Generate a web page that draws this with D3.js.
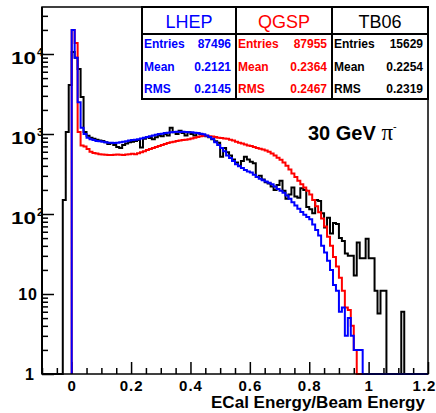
<!DOCTYPE html>
<html>
<head>
<meta charset="utf-8">
<script src="https://cdn.jsdelivr.net/npm/d3@7"></script>
<style>
  body { margin: 0; background: #fff; }
  text { font-family: "Liberation Sans", Arial, Helvetica, sans-serif; }
</style>
</head>
<body>
<svg id="chart" width="436" height="413"></svg>
<script>
// binning and axis labels
const binWidth = 0.01;
const xTicks = [0, 0.2, 0.4, 0.6, 0.8, 1, 1.2];
const xTickLabels = ['0', '0.2', '0.4', '0.6', '0.8', '1', '1.2'];
const yTicks = [1, 10, 100, 1000, 10000];
const yTickLabels = [['1', ''], ['10', ''], ['10', '2'], ['10', '3'], ['10', '4']];

// TB06 data, first bin at -0.03
const tb06Start = -0.03;
const tb06 = [
  150, 1060, 4100, 10600, 9000, 6500, 2900, 1060, 950, 900,
  870, 850, 830, 820, 790, 750, 770, 730, 690, 670,
  730, 760, 790, 800, 820, 840, 680, 870, 910, 890,
  860, 910, 960, 940, 1000, 960, 1200, 1050, 1000, 1100,
  1030, 960, 1050, 1000, 960, 1030, 1000, 960, 940, 910,
  860, 810, 780, 520, 670, 590, 540, 480, 440, 400,
  460, 520, 480, 450, 430, 290, 300, 270, 250, 240,
  220, 200, 230, 260, 195, 155, 175, 215, 165, 160,
  210, 200, 122, 115, 102, 150, 145, 102, 68, 90,
  57, 77, 75, 50, 46, 32, 30, 30, 17, 44,
  28, 28, 49, 28, 28, 11, 5.7, 11, 11, 0,
  0, 0, 0, 0, 6
];

// LHEP simulation, first bin at 0
const lhepStart = 0;
const lhep = [
  20000, 9000, 2500, 1200, 1000, 900, 860, 840, 820, 810,
  800, 790, 780, 775, 770, 780, 790, 800, 810, 830,
  840, 850, 860, 880, 900, 920, 940, 960, 980, 1000,
  1010, 1030, 1040, 1050, 1060, 1070, 1060, 1070, 1060, 1050,
  1050, 1040, 1030, 1010, 990, 960, 920, 870, 790, 730,
  670, 610, 540, 500, 460, 420, 395, 375, 355, 340,
  330, 310, 290, 275, 265, 255, 245, 235, 220, 205,
  195, 185, 170, 155, 140, 128, 116, 106, 98, 92,
  86, 74, 63, 54, 40, 33, 26, 20, 13, 11,
  6, 6.8, 3, 5, 3, 2, 2, 2
];

// QGSP simulation, first bin at 0
const qgspStart = 0;
const qgsp = [
  20000, 13700, 1060, 720, 700, 650, 600, 580, 570, 560,
  555, 550, 545, 545, 550, 555, 550, 548, 555, 560,
  565, 560, 575, 590, 610, 630, 650, 670, 690, 710,
  730, 750, 770, 790, 800, 820, 830, 840, 850, 860,
  880, 900, 920, 940, 950, 950, 940, 930, 920, 900,
  890, 880, 870, 850, 830, 800, 780, 760, 740, 720,
  710, 690, 670, 655, 640, 620, 600, 570, 540, 505,
  475, 440, 400, 360, 320, 290, 260, 235, 215, 195,
  175, 150, 125, 105, 88, 70, 52, 40, 29, 22,
  16, 11, 6.8, 6.3, 4, 2
];

const statNames = ['LHEP', 'QGSP', 'TB06'];
const statColors = ['#0000ff', '#ff0000', '#000000'];
const statEntries = ['87496', '87955', '15629'];
const statMeans = ['0.2121', '0.2364', '0.2254'];
const statRms = ['0.2145', '0.2467', '0.2319'];

const svg = d3.select('#chart');
const mLeft = 42, mRight = 428, mTop = 7, mBottom = 374;

const x = d3.scaleLinear().domain([-0.1, 1.2]).range([mLeft, mRight]);
const y = d3.scaleLog().domain([1, Math.pow(10, 4.5875)]).range([mBottom, mTop]);

// histogram outline as a step path
function steps(start, values, from, to) {
  const pts = [[from, 1]];
  const n = Math.round((to - from) / binWidth);
  for (let i = 0; i < n; i++) {
    const e = from + i * binWidth;
    const k = Math.round((e - start) / binWidth);
    const v = (k >= 0 && k < values.length) ? values[k] : 0;
    pts.push([e, Math.max(v, 1)]);
  }
  pts.push([to, pts[pts.length - 1][1]]);
  pts.push([to, 1]);
  return pts;
}

const line = d3.line()
  .x(d => x(d[0]))
  .y(d => y(d[1]))
  .curve(d3.curveStepAfter);

svg.append('clipPath').attr('id', 'clip')
  .append('rect')
  .attr('x', mLeft).attr('y', mTop)
  .attr('width', mRight - mLeft).attr('height', mBottom - mTop + 2);

// minor ticks
const xMinor = d3.range(-0.1, 1.2001, 0.05).filter(v => Math.abs(v / 0.2 - Math.round(v / 0.2)) > 1e-6);
svg.append('g')
  .attr('transform', `translate(0,${mBottom})`)
  .call(d3.axisBottom(x).tickValues(xMinor).tickSize(-6).tickFormat(''))
  .call(g => g.select('.domain').remove())
  .call(g => g.selectAll('line').attr('stroke-width', 1.5));

const yMinor = [];
for (let p = 0; p < 5; p++) {
  for (let m = 2; m <= 9; m++) {
    const v = m * Math.pow(10, p);
    if (v < y.domain()[1]) yMinor.push(v);
  }
}
svg.append('g')
  .attr('transform', `translate(${mLeft},0)`)
  .call(d3.axisLeft(y).tickValues(yMinor).tickSize(-6).tickFormat(''))
  .call(g => g.select('.domain').remove())
  .call(g => g.selectAll('line').attr('stroke-width', 1.5));

// major ticks and labels
svg.append('g')
  .attr('transform', `translate(0,${mBottom})`)
  .call(d3.axisBottom(x).tickValues(xTicks).tickSize(-12).tickPadding(6)
    .tickFormat((d, i) => xTickLabels[i]))
  .call(g => g.select('.domain').remove())
  .call(g => g.selectAll('line').attr('stroke-width', 1.5))
  .call(g => g.selectAll('text')
    .attr('font-size', 15).attr('font-weight', 'bold').attr('fill', '#000')
    .attr('letter-spacing', 1)
    .attr('x', d => d === 1.2 ? -4 : 0)
    .style('font-family', '"Liberation Sans", Arial, sans-serif'));

const yAxis = svg.append('g')
  .attr('transform', `translate(${mLeft},0)`)
  .call(d3.axisLeft(y).tickValues(yTicks).tickSize(-12).tickFormat(''))
  .call(g => g.select('.domain').remove())
  .call(g => g.selectAll('line').attr('stroke-width', 1.5));

yAxis.selectAll('.tick').each(function (d, i) {
  const lab = yTickLabels[i];
  const g = d3.select(this);
  const font = t => t.attr('fill', '#000')
    .attr('font-weight', 'bold')
    .style('font-family', '"Liberation Sans", Arial, sans-serif');
  if (lab[1]) {
    g.append('text').call(font)
      .attr('text-anchor', 'start')
      .attr('x', -31).attr('y', 9).attr('font-size', 16)
      .attr('textLength', 25).attr('lengthAdjust', 'spacingAndGlyphs')
      .text(lab[0]);
    g.append('text').call(font)
      .attr('text-anchor', 'start')
      .attr('x', -5).attr('y', 1).attr('font-size', 11)
      .text(lab[1]);
  } else {
    g.append('text').call(font)
      .attr('text-anchor', 'end')
      .attr('x', lab[0] === '1' ? -7 : -4).attr('y', 5).attr('font-size', 16)
      .attr('letter-spacing', 1)
      .text(lab[0]);
  }
});

// histograms
const hist = svg.append('g').attr('clip-path', 'url(#clip)');
const series = [
  { start: tb06Start, values: tb06, from: -0.1, color: '#000000' },
  { start: qgspStart, values: qgsp, from: 0, color: '#ff0000' },
  { start: lhepStart, values: lhep, from: 0, color: '#0000ff' }
];
hist.selectAll('path')
  .data(series)
  .enter()
  .append('path')
  .attr('d', d => line(steps(d.start, d.values, d.from, 1.2)))
  .attr('fill', 'none')
  .attr('stroke', d => d.color)
  .attr('stroke-width', 2);

// frame
svg.append('rect')
  .attr('x', mLeft).attr('y', mTop)
  .attr('width', mRight - mLeft).attr('height', mBottom - mTop)
  .attr('fill', 'none').attr('stroke', '#000').attr('stroke-width', 1.5);
svg.append('line')
  .attr('x1', mLeft).attr('x2', mLeft).attr('y1', mTop).attr('y2', mBottom)
  .attr('stroke', '#000').attr('stroke-width', 2);

// stats box
const boxL = 142, boxT = 7, boxB = 99, headB = 34;
const colX = [142, 236, 332, 428];
svg.append('rect')
  .attr('x', boxL).attr('y', boxT)
  .attr('width', mRight - boxL).attr('height', boxB - boxT)
  .attr('fill', '#fff').attr('stroke', '#000').attr('stroke-width', 2);
svg.append('line')
  .attr('x1', boxL).attr('x2', mRight).attr('y1', headB).attr('y2', headB)
  .attr('stroke', '#000').attr('stroke-width', 2);
[236, 332].forEach(cx => {
  svg.append('line')
    .attr('x1', cx).attr('x2', cx).attr('y1', boxT).attr('y2', boxB)
    .attr('stroke', '#000').attr('stroke-width', 2);
});

statNames.forEach((name, i) => {
  const x0 = colX[i], x1 = colX[i + 1];
  svg.append('text')
    .attr('x', (x0 + x1) / 2).attr('y', 28)
    .attr('text-anchor', 'middle')
    .attr('font-size', 18)
    .attr('fill', statColors[i])
    .text(name);
  const rows = [['Entries', statEntries[i]], ['Mean', statMeans[i]], ['RMS', statRms[i]]];
  rows.forEach((r, j) => {
    const yy = [48, 71, 93][j];
    svg.append('text')
      .attr('x', x0 + 2).attr('y', yy)
      .attr('font-size', 12).attr('font-weight', 'bold')
      .attr('fill', statColors[i])
      .text(r[0]);
    svg.append('text')
      .attr('x', x1 - 5).attr('y', yy)
      .attr('text-anchor', 'end')
      .attr('font-size', 12).attr('font-weight', 'bold')
      .attr('fill', statColors[i])
      .text(r[1]);
  });
});

// beam label
const beam = svg.append('text')
  .attr('x', 308).attr('y', 140)
  .attr('font-size', 20).attr('font-weight', 'bold')
  .attr('fill', '#000');
beam.append('tspan').text('30 GeV ');
beam.append('tspan')
  .style('font-family', '"Liberation Serif", "Times New Roman", serif')
  .attr('font-weight', 'normal').attr('font-size', 23).text('π');
beam.append('tspan')
  .attr('font-size', 11).attr('font-weight', 'normal').attr('dy', -10).text('-');

// x axis title
svg.append('text')
  .attr('x', 425).attr('y', 408)
  .attr('text-anchor', 'end')
  .attr('font-size', 16).attr('font-weight', 'bold')
  .attr('textLength', 214).attr('lengthAdjust', 'spacingAndGlyphs')
  .attr('fill', '#000')
  .text('ECal Energy/Beam Energy');
</script>
</body>
</html>
